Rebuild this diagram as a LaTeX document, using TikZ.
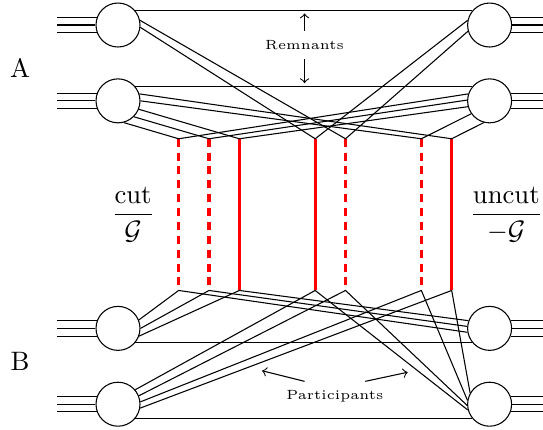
\documentclass[tikz,border=0pt]{standalone}
\usepackage{amsmath}
\usepackage{amsfonts}
\usepackage{amssymb}
\usepackage{tikz}

\tikzset{
  blob/.style={circle, draw, fill=white, inner sep=0pt, minimum size=0.58cm},
  cutline/.style={red, line width=1.2pt},
  dcutline/.style={red, line width=1.2pt, dash pattern=on 3pt off 2.2pt},
}

\begin{document}
\begin{tikzpicture}[x=0.2cm,y=0.2cm]
    \useasboundingbox (-7.78,-26.7) rectangle (28.02,1.65);
    % blobs
    \node[blob] (la1) at (0,0) {};
    \node[blob] (la2) at (0,-5) {};
    \node[blob] (lb1) at (0,-20) {};
    \node[blob] (lb2) at (0,-25) {};
    \node[blob] (ra1) at (24.5,0) {};
    \node[blob] (ra2) at (24.5,-5) {};
    \node[blob] (rb1) at (24.5,-20) {};
    \node[blob] (rb2) at (24.5,-25) {};
    % incoming lines
    \coordinate (lend) at (-4,0);
    \coordinate (rend) at (28.02,0);
    \foreach \n in {la1,la2,lb1,lb2}
      \foreach \a in {160,180,200}
        \draw (lend |- \n.\a) -- (\n.\a);
    \foreach \n in {ra1,ra2,rb1,rb2}
      \foreach \a in {20,0,-20}
        \draw (\n.\a) -- (rend |- \n.\a);
    % vertices
    \foreach \x [count=\i] in {4,6,8,13,15,20,22} {
      \coordinate (t\i) at (\x,-7.5);
      \coordinate (b\i) at (\x,-17.5);
    }
    \draw[dcutline] (t1) -- (b1);
    \draw[dcutline] (t2) -- (b2);
    \draw[cutline] (t3) -- (b3);
    \draw[cutline] (t4) -- (b4);
    \draw[dcutline] (t5) -- (b5);
    \draw[dcutline] (t6) -- (b6);
    \draw[cutline] (t7) -- (b7);
    % remnants
    \draw (la1.40) -- (ra1.140);
    \draw (la2.40) -- (ra2.140);
    \draw (lb1.-40) -- (rb1.-140);
    \draw (lb2.-40) -- (rb2.-140);
    % A side
    \draw (la1.12) -- (t5) -- (ra1.196);
    \draw (la1.-6) -- (t4) -- (ra1.168);
    \draw (la2.18) -- (t7) -- (ra2.255);
    \draw (la2.0) -- (t6) -- (ra2.215);
    \draw (la2.-22) -- (t3) -- (ra2.195);
    \draw (la2.-45) -- (t2) -- (ra2.178);
    \draw (la2.-75) -- (t1) -- (ra2.162);
    % B side
    \draw (lb1.22) -- (b1) -- (rb1.190);
    \draw (lb1.0) -- (b2) -- (rb1.175);
    \draw (lb1.-20) -- (b3) -- (rb1.160);
    \draw (lb2.40) -- (b4) -- (rb2.195);
    \draw (lb2.22) -- (b5) -- (rb2.183);
    \draw (lb2.6) -- (b6) -- (rb2.170);
    \draw (lb2.-10) -- (b7) -- (rb2.150);
    % labels
    \node (labA) at (-6.46,-2.83) {A};
    \node (labB) at (-6.46,-22.2) {B};
    \node (cutfrac) at (0.99,-12.5) {$\dfrac{\text{cut}}{\mathcal{G}}$};
    \node (uncutfrac) at (25.6,-12.5) {$\dfrac{\text{uncut}}{-\mathcal{G}}$};
    \node[font=\tiny] (rem) at (12.3,-1.32) {Remnants};
    \draw[->] (rem.north) -- ++(0,1.15);
    \draw[->] (rem.south) -- ++(0,-1.58);
    \node[font=\tiny] (part) at (14.3,-24.5) {Participants};
    \draw[->] ([xshift=-0.4cm]part.north) -- ++(-2.8,0.7);
    \draw[->] ([xshift=0.4cm]part.north) -- ++(2.8,0.6);
\end{tikzpicture}
\end{document}
